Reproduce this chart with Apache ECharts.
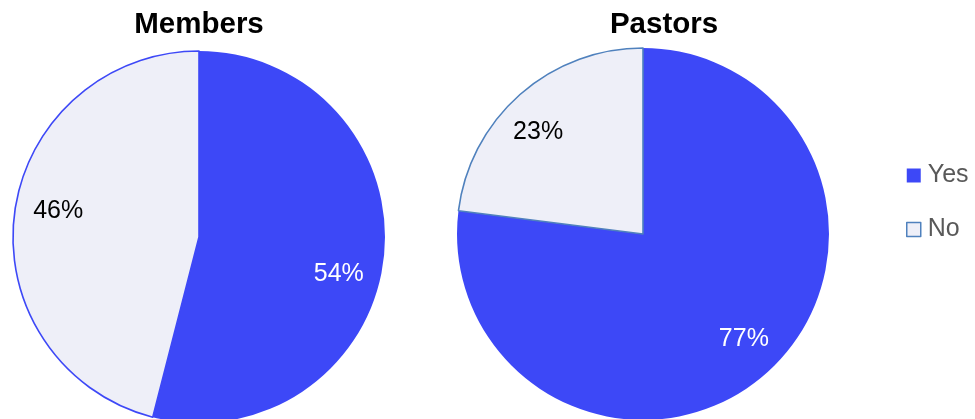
<!DOCTYPE html>
<html>
<head>
<meta charset="utf-8">
<script src="https://cdn.jsdelivr.net/npm/echarts@6/dist/echarts.min.js"></script>
<style>
  html, body { margin: 0; padding: 0; background: #ffffff; }
  #chart { width: 975px; height: 419px; }
</style>
</head>
<body>
<div id="chart"></div>
<script>
// Survey answers, in percent
const categories = ['Yes', 'No'];
const members = [54, 46];
const pastors = [77, 23];

const FONT = "'Liberation Sans', Arial, sans-serif";
const YES = '#3D48F7';
const NO = '#EEEFF8';

const chart = echarts.init(document.getElementById('chart'), null, { renderer: 'canvas' });

// One pie, plus a transparent ring over it that carries the percent labels
function pieSeries(values, center, noBorder, labelColors, labelOffsets) {
  const body = {
    type: 'pie',
    center: center,
    radius: 186,
    startAngle: 90,
    clockwise: true,
    silent: true,
    label: { show: false },
    labelLine: { show: false },
    emphasis: { disabled: true },
    data: categories.map((name, i) => ({
      name: name,
      value: values[i],
      itemStyle: i === 0
        ? { color: YES, borderWidth: 0 }
        : { color: NO, borderColor: noBorder, borderWidth: 1.6 }
    }))
  };
  const labels = {
    type: 'pie',
    center: center,
    radius: [104, 186],
    startAngle: 90,
    clockwise: true,
    silent: true,
    z: 3,
    itemStyle: { color: 'rgba(0,0,0,0)' },
    labelLine: { show: false },
    emphasis: { disabled: true },
    data: categories.map((name, i) => ({
      name: name,
      value: values[i],
      label: {
        show: true,
        position: 'inside',
        formatter: '{c}%',
        color: labelColors[i],
        fontFamily: FONT,
        fontSize: 25,
        offset: labelOffsets[i]
      }
    }))
  };
  return [body, labels];
}

chart.setOption({
  animation: false,
  backgroundColor: '#ffffff',
  title: [
    { text: 'Members', left: 194, top: 5, textAlign: 'center',
      textStyle: { fontFamily: FONT, fontSize: 29.5, fontWeight: 'bold', color: '#000' } },
    { text: 'Pastors', left: 659, top: 5, textAlign: 'center',
      textStyle: { fontFamily: FONT, fontSize: 29.5, fontWeight: 'bold', color: '#000' } }
  ],
  legend: {
    orient: 'vertical',
    left: 906,
    top: 163,
    padding: 0,
    icon: 'rect',
    itemWidth: 14,
    itemHeight: 14,
    itemGap: 29,
    selectedMode: false,
    textStyle: { fontFamily: FONT, fontSize: 25, color: '#595959', padding: [0, 0, 0, 2] },
    data: [
      { name: 'Yes', itemStyle: { color: YES, borderWidth: 0 } },
      { name: 'No', itemStyle: { color: NO, borderColor: '#4F81BD', borderWidth: 1.5 } }
    ]
  },
  series: [
    ...pieSeries(members, [199, 237], YES, ['#ffffff', '#000000'], [[-7, 19], [6, -7]]),
    ...pieSeries(pastors, [643, 234], '#4F81BD', ['#ffffff', '#000000'], [[3, -6], [-7, 9]])
  ]
});
</script>
</body>
</html>
